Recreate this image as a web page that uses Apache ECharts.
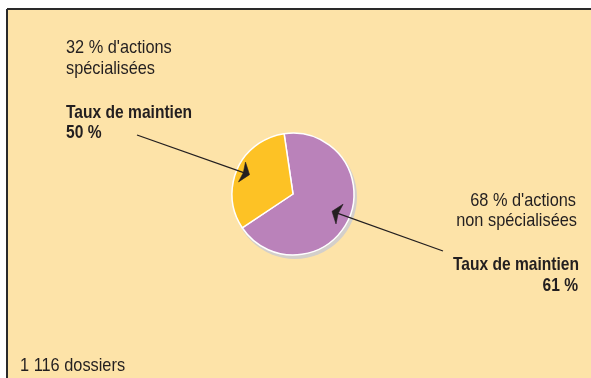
<!DOCTYPE html>
<html>
<head>
<meta charset="utf-8">
<script src="https://cdn.jsdelivr.net/npm/echarts@6/dist/echarts.min.js"></script>
<style>
  html, body { margin: 0; padding: 0; background: #ffffff; }
  #chart { width: 591px; height: 378px; }
</style>
</head>
<body>
<div id="chart"></div>
<script>
// Share of training actions (percent) and job-retention rate for each group
const categories = ["actions non spécialisées", "actions spécialisées"];
const shares = [68, 32];
const retentionRates = [61, 50];
const totalFiles = 1116;

const sliceColors = ["#BA82BA", "#FDC225"];
const FONT = "'Liberation Sans', Arial, Helvetica, sans-serif";
const INK = "#231F20";

// Pie geometry (pixels) and where each callout arrow lands inside its slice
const CENTER = [293, 194];
const RADIUS = 61;
const START_ANGLE = 98.4;
const anchorFraction = [0.7, 0.78];
const arrowTails = [[443, 251], [137, 135]];

function frNumber(n) {
  return String(n).replace(/\B(?=(\d{3})+(?!\d))/g, " ");
}

// Point inside slice i, along its middle angle
function sliceAnchor(i) {
  let before = 0;
  for (let k = 0; k < i; k++) before += shares[k];
  const total = shares.reduce((a, b) => a + b, 0);
  const mid = (START_ANGLE - (before + shares[i] / 2) / total * 360) * Math.PI / 180;
  const r = RADIUS * anchorFraction[i];
  return [CENTER[0] + r * Math.cos(mid), CENTER[1] - r * Math.sin(mid)];
}

// Straight leader with a short, wide filled arrowhead
function arrow(tail, tip) {
  const dx = tip[0] - tail[0], dy = tip[1] - tail[1];
  const len = Math.hypot(dx, dy);
  const ux = dx / len, uy = dy / len, nx = -uy, ny = ux;
  const back = 8, half = 10.5, notch = 1.5;
  return [
    {
      type: "line",
      shape: { x1: tail[0], y1: tail[1], x2: tip[0] - 4 * ux, y2: tip[1] - 4 * uy },
      style: { stroke: INK, lineWidth: 1.3 },
      z: 10
    },
    {
      type: "polygon",
      shape: {
        points: [
          tip,
          [tip[0] - back * ux + half * nx, tip[1] - back * uy + half * ny],
          [tip[0] - (back - notch) * ux, tip[1] - (back - notch) * uy],
          [tip[0] - back * ux - half * nx, tip[1] - back * uy - half * ny]
        ]
      },
      style: { fill: INK, stroke: INK, lineWidth: 0.6, lineJoin: "miter" },
      z: 10
    }
  ];
}

// One line of condensed-looking text; y is the baseline
function text(x, baseline, str, opts) {
  opts = opts || {};
  const bold = !!opts.bold;
  return {
    type: "text",
    x: x,
    y: baseline - 6.7,
    scaleX: bold ? 0.82 : 0.86,
    style: {
      text: str,
      font: (bold ? "bold " : "") + "19px " + FONT,
      fill: INK,
      textAlign: opts.align || "left",
      textVerticalAlign: "middle"
    },
    z: 20
  };
}

const chart = echarts.init(document.getElementById("chart"), null, { renderer: "canvas" });

const graphics = [
  // panel background with rule on top and left
  { type: "rect", shape: { x: 7, y: 9, width: 600, height: 400 }, style: { fill: "#FDE3A8" }, z: -10 },
  { type: "line", shape: { x1: 7, y1: 9, x2: 591, y2: 9 }, style: { stroke: "#2a2a2a", lineWidth: 2 }, z: -9 },
  { type: "line", shape: { x1: 7, y1: 9, x2: 7, y2: 378 }, style: { stroke: "#2a2a2a", lineWidth: 2 }, z: -9 },

  text(66, 54, shares[1] + " % d'actions"),
  text(66, 75, "spécialisées"),
  text(66, 119, "Taux de maintien", { bold: true }),
  text(66, 139, retentionRates[1] + " %", { bold: true }),

  text(576, 207, shares[0] + " % d'actions", { align: "right" }),
  text(577, 227, "non spécialisées", { align: "right" }),
  text(579, 271, "Taux de maintien", { align: "right", bold: true }),
  text(578, 292, retentionRates[0] + " %", { align: "right", bold: true }),

  text(20, 372, frNumber(totalFiles) + " dossiers")
];
graphics.push(...arrow(arrowTails[0], sliceAnchor(0)));
graphics.push(...arrow(arrowTails[1], sliceAnchor(1)));

chart.setOption({
  animation: false,
  backgroundColor: "#ffffff",
  graphic: graphics,
  series: [
    {
      // drop shadow disc under the pie
      type: "pie",
      silent: true,
      center: [CENTER[0] + 2, CENTER[1] + 3],
      radius: RADIUS + 1,
      label: { show: false },
      labelLine: { show: false },
      itemStyle: { color: "#D3CFCB" },
      data: [{ value: 1, name: "" }],
      z: 1
    },
    {
      type: "pie",
      center: CENTER,
      radius: RADIUS,
      startAngle: START_ANGLE,
      clockwise: true,
      label: { show: false },
      labelLine: { show: false },
      itemStyle: { borderColor: "#ffffff", borderWidth: 1.5 },
      data: categories.map((c, i) => ({
        name: c,
        value: shares[i],
        itemStyle: { color: sliceColors[i] }
      })),
      z: 2
    }
  ]
});
</script>
</body>
</html>
